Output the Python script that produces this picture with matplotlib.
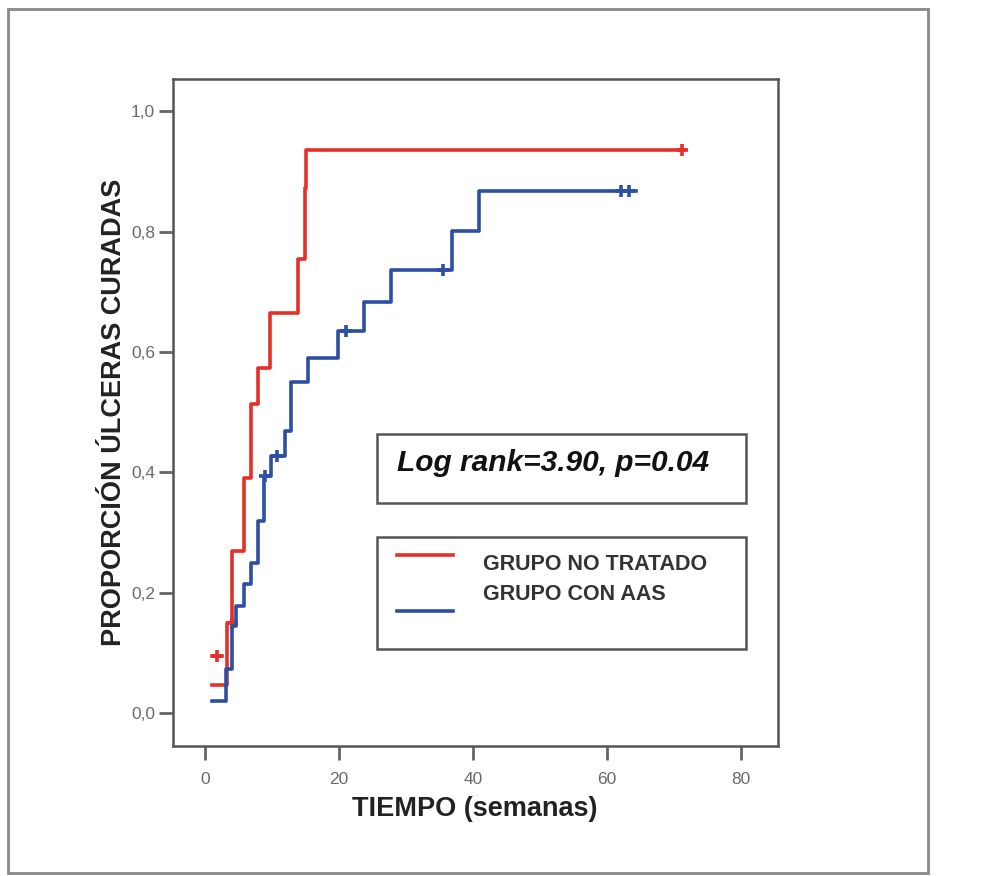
import matplotlib.pyplot as plt
from matplotlib.patches import Rectangle
import numpy as np

plt.rcParams['font.family'] = ['Liberation Sans', 'DejaVu Sans']

# cumulative proportion healed (1 - KM)
red_t = [1.0, 3.3, 4.1, 5.8, 6.9, 7.95, 9.7, 13.9, 15.0, 15.1, 71.5]
red_y = [0.047, 0.150, 0.269, 0.391, 0.513, 0.574, 0.665, 0.754, 0.873, 0.936, 0.936]
red_cens_t = [4.0, 71.2]
red_cens_y = [0.150, 0.936]
# short extra segment at the start of the red curve
red_early_t = [1.0, 2.6]
red_early_y = [0.095, 0.095]
red_early_cens_t = [1.8]

blue_t = [1.0, 3.1, 4.0, 4.7, 5.8, 6.85, 7.95, 8.85, 9.9, 11.9, 12.8, 15.4,
          19.9, 23.7, 27.7, 36.9, 40.9, 64.3]
blue_y = [0.020, 0.073, 0.145, 0.178, 0.214, 0.250, 0.319, 0.394, 0.427, 0.468,
          0.551, 0.590, 0.635, 0.684, 0.737, 0.802, 0.867, 0.867]
blue_cens_t = [9.0, 10.8, 21.1, 35.5, 62.1, 63.3]
blue_cens_y = [0.394, 0.427, 0.635, 0.737, 0.867, 0.867]

yticks = [0.0, 0.2, 0.4, 0.6, 0.8, 1.0]
ytick_labels = ['0,0', '0,2', '0,4', '0,6', '0,8', '1,0']
xticks = [0, 20, 40, 60, 80]

red = '#e5302a'
blue = '#2c4ea3'

fig = plt.figure(figsize=(10.07, 8.76), dpi=100)
ax = fig.add_axes([0.1721, 0.1484, 0.6005, 0.7614])

ax.step(red_t, red_y, where='post', color=red, lw=2.6)
ax.plot(red_early_t, red_early_y, color=red, lw=2.6)
ax.plot(red_early_cens_t, [red_early_y[0]], '+', color=red, ms=9, mew=2.6)
ax.plot(red_cens_t, red_cens_y, '+', color=red, ms=9, mew=2.6, ls='none')

ax.step(blue_t, blue_y, where='post', color=blue, lw=2.6)
ax.plot(blue_cens_t, blue_cens_y, '+', color=blue, ms=9, mew=2.6, ls='none')

ax.set_xlim(-4.7, 85.5)
ax.set_ylim(-0.055, 1.054)
ax.set_xticks(xticks)
ax.set_yticks(yticks)
ax.set_yticklabels(ytick_labels)
ax.tick_params(direction='out', length=10, width=2, color='#666666',
               labelcolor='#6a6a6a', labelsize=12.5)
ax.tick_params(axis='x', pad=9)
ax.tick_params(axis='y', pad=3)
for s in ax.spines.values():
    s.set_color('#555555')
    s.set_linewidth(1.8)

fig.text(0.471, 0.077, 'TIEMPO (semanas)', ha='center', va='center',
         fontsize=19.5, fontweight='bold', color='#222222')
fig.text(0.113, 0.529, 'PROPORCIÓN ÚLCERAS CURADAS', ha='center', va='center',
         rotation=90, fontsize=19.5, fontweight='bold', color='#222222')

# log rank box
fig.patches.append(Rectangle((377 / 1007, 1 - 503 / 876), 369 / 1007, 69 / 876,
                             transform=fig.transFigure, fill=False,
                             ec='#555555', lw=1.8))
fig.text(553 / 1007, 1 - 463 / 876, 'Log rank=3.90, p=0.04', ha='center', va='center',
         fontsize=21.5, fontweight='bold', style='italic', color='#111111')

# legend box
fig.patches.append(Rectangle((377 / 1007, 1 - 649 / 876), 369 / 1007, 112 / 876,
                             transform=fig.transFigure, fill=False,
                             ec='#555555', lw=1.8))
fig.add_artist(plt.Line2D([397 / 1007, 453 / 1007], [1 - 555 / 876] * 2, color=red, lw=2.6))
fig.add_artist(plt.Line2D([397 / 1007, 453 / 1007], [1 - 611 / 876] * 2, color=blue, lw=2.6))
fig.text(483 / 1007, 1 - 565 / 876, 'GRUPO NO TRATADO', ha='left', va='center',
         fontsize=15.5, fontweight='bold', color='#333333')
fig.text(483 / 1007, 1 - 595 / 876, 'GRUPO CON AAS', ha='left', va='center',
         fontsize=15.5, fontweight='bold', color='#333333')

# outer frame
fig.patches.append(Rectangle((8 / 1007, 1 - 873 / 876), 920 / 1007, 864 / 876,
                             transform=fig.transFigure, fill=False,
                             ec='#888888', lw=2))

fig.savefig('out.png', dpi=100)
